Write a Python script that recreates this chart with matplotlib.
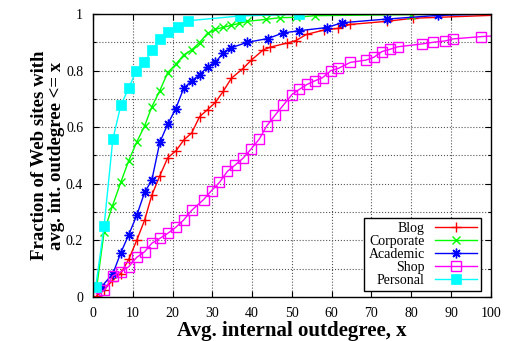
"""CDF of average internal outdegree per Web site category (gnuplot-style)."""
import matplotlib

matplotlib.use("Agg")
import matplotlib.pyplot as plt
from matplotlib.ticker import MultipleLocator

plt.rcParams["font.family"] = ["Liberation Serif", "DejaVu Serif"]

# --- data ------------------------------------------------------------------
blog_x = [1.0, 2.8, 4.9, 7.0, 9.0, 11.0, 13.0, 14.8, 16.8, 18.8, 20.9, 22.9, 24.8, 26.8,
          28.8, 30.8, 32.8, 34.8, 37.7, 39.8, 42.8, 44.6, 48.7, 51.0, 53.7, 58.0, 61.6,
          64.6, 73.8, 80.5, 100.0]
blog_y = [0.005, 0.025, 0.058, 0.083, 0.133, 0.200, 0.272, 0.360, 0.428, 0.492, 0.517,
          0.556, 0.579, 0.637, 0.662, 0.688, 0.728, 0.773, 0.807, 0.837, 0.873, 0.883,
          0.897, 0.906, 0.928, 0.943, 0.949, 0.963, 0.974, 0.985, 0.995]

corporate_x = [1.0, 2.8, 4.9, 7.0, 9.0, 11.0, 13.0, 14.8, 16.8, 18.8, 20.8, 22.8, 24.8,
               26.8, 28.8, 30.8, 32.8, 34.8, 36.8, 38.8, 43.5, 47.0, 51.0, 55.7, 80.0, 100.0]
corporate_y = [0.040, 0.230, 0.322, 0.405, 0.482, 0.547, 0.605, 0.672, 0.729, 0.793,
               0.822, 0.855, 0.873, 0.899, 0.932, 0.946, 0.953, 0.960, 0.967, 0.974,
               0.981, 0.987, 0.988, 0.994, 0.998, 1.000]

academic_x = [2.0, 5.0, 7.0, 9.0, 11.0, 13.0, 14.8, 16.8, 18.8, 20.8, 22.8, 24.8, 26.8,
              28.8, 30.8, 32.8, 34.8, 38.8, 43.9, 47.8, 51.9, 58.7, 62.6, 73.8, 86.6, 100.0]
academic_y = [0.034, 0.082, 0.156, 0.220, 0.288, 0.370, 0.413, 0.546, 0.611, 0.665,
              0.737, 0.764, 0.785, 0.813, 0.830, 0.863, 0.881, 0.900, 0.913, 0.933,
              0.941, 0.952, 0.969, 0.982, 0.995, 1.000]

shop_x = [0.85, 2.9, 5.0, 7.0, 9.0, 11.0, 13.0, 14.8, 16.8, 18.8, 20.8, 22.8, 24.8, 27.8,
          29.8, 31.8, 33.8, 35.7, 37.7, 39.7, 41.8, 43.7, 45.8, 47.8, 50.0, 51.9, 53.8,
          55.8, 57.7, 59.8, 61.7, 64.7, 68.6, 70.6, 72.6, 74.6, 76.6, 82.6, 85.5, 88.6,
          90.5, 97.6, 100.0]
shop_y = [0.011, 0.025, 0.075, 0.089, 0.107, 0.140, 0.160, 0.190, 0.207, 0.225, 0.246,
          0.272, 0.306, 0.344, 0.376, 0.405, 0.444, 0.466, 0.490, 0.522, 0.558, 0.605,
          0.643, 0.677, 0.715, 0.734, 0.751, 0.764, 0.775, 0.800, 0.808, 0.829, 0.837,
          0.847, 0.867, 0.875, 0.884, 0.894, 0.900, 0.905, 0.912, 0.920, 0.922]

personal_x = [0.7, 2.8, 5.0, 7.0, 9.0, 10.9, 12.9, 14.9, 16.9, 18.9, 21.5, 23.9, 36.9,
              51.7, 100.0]
personal_y = [0.035, 0.250, 0.557, 0.677, 0.738, 0.800, 0.829, 0.872, 0.911, 0.935,
              0.955, 0.976, 0.993, 0.999, 1.000]

x_ticks = [0, 10, 20, 30, 40, 50, 60, 70, 80, 90, 100]
y_ticks = [0, 0.2, 0.4, 0.6, 0.8, 1]
y_tick_labels = ["0", "0.2", "0.4", "0.6", "0.8", "1"]

SERIES = (
    ("Blog", blog_x, blog_y, dict(color="#ff0000", marker="+", ms=7, mew=1.0)),
    ("Corporate", corporate_x, corporate_y, dict(color="#00ff00", marker="x", ms=6, mew=1.0)),
    ("Academic", academic_x, academic_y, dict(color="#0000ff", marker=(8, 2, 0), ms=7, mew=1.0)),
    ("Shop", shop_x, shop_y, dict(color="#ff00ff", marker="s", ms=7, mew=1.0, mfc="none")),
    ("Personal", personal_x, personal_y, dict(color="#00ffff", marker="s", ms=6.5, mew=0.5)),
)


def main() -> None:
    fig = plt.figure(figsize=(5.05, 3.41), dpi=100)
    ax = fig.add_axes([0.184, 0.129, 0.788, 0.830])

    for label, xs, ys, style in SERIES:
        # last point only closes the curve at x=100; gnuplot shows no marker there
        ax.plot(xs, ys, lw=1.0, label=label, markevery=slice(0, len(xs) - 1), **style)

    ax.set_xlim(0, 100)
    ax.set_ylim(0, 1)
    ax.set_xticks(x_ticks)
    ax.set_yticks(y_ticks, labels=y_tick_labels)
    ax.yaxis.set_minor_locator(MultipleLocator(0.1))
    ax.tick_params(which="both", direction="in", top=True, right=True, labelsize=10, pad=7)
    ax.tick_params(which="major", length=4, width=0.8)
    ax.tick_params(which="minor", length=2, width=0.8)
    ax.grid(True, which="major", axis="x", ls=":", color="#555555", lw=0.8)
    ax.grid(True, which="both", axis="y", ls=":", color="#555555", lw=0.8)
    ax.set_axisbelow(True)
    for spine in ax.spines.values():
        spine.set_linewidth(1.0)

    ax.set_xlabel("Avg. internal outdegree, x", fontsize=15, fontweight="bold", labelpad=1)
    ax.set_ylabel("Fraction of Web sites with\navg. int. outdegree <= x", fontsize=13.5,
                  fontweight="bold", labelpad=0.5, linespacing=1.0)

    # markerfirst=False right-aligns the rows, so the labels end flush at the handles
    leg = ax.legend(loc="lower right", bbox_to_anchor=(0.975, 0.021), fontsize=10,
                    markerfirst=False, frameon=True, fancybox=False, edgecolor="black",
                    framealpha=1.0, handlelength=3.0, handletextpad=0.75, labelspacing=0.0,
                    borderpad=0.3, borderaxespad=0.0)
    leg.get_frame().set_linewidth(1.0)

    fig.savefig("out.png", dpi=100)
    plt.close(fig)


if __name__ == "__main__":
    main()
